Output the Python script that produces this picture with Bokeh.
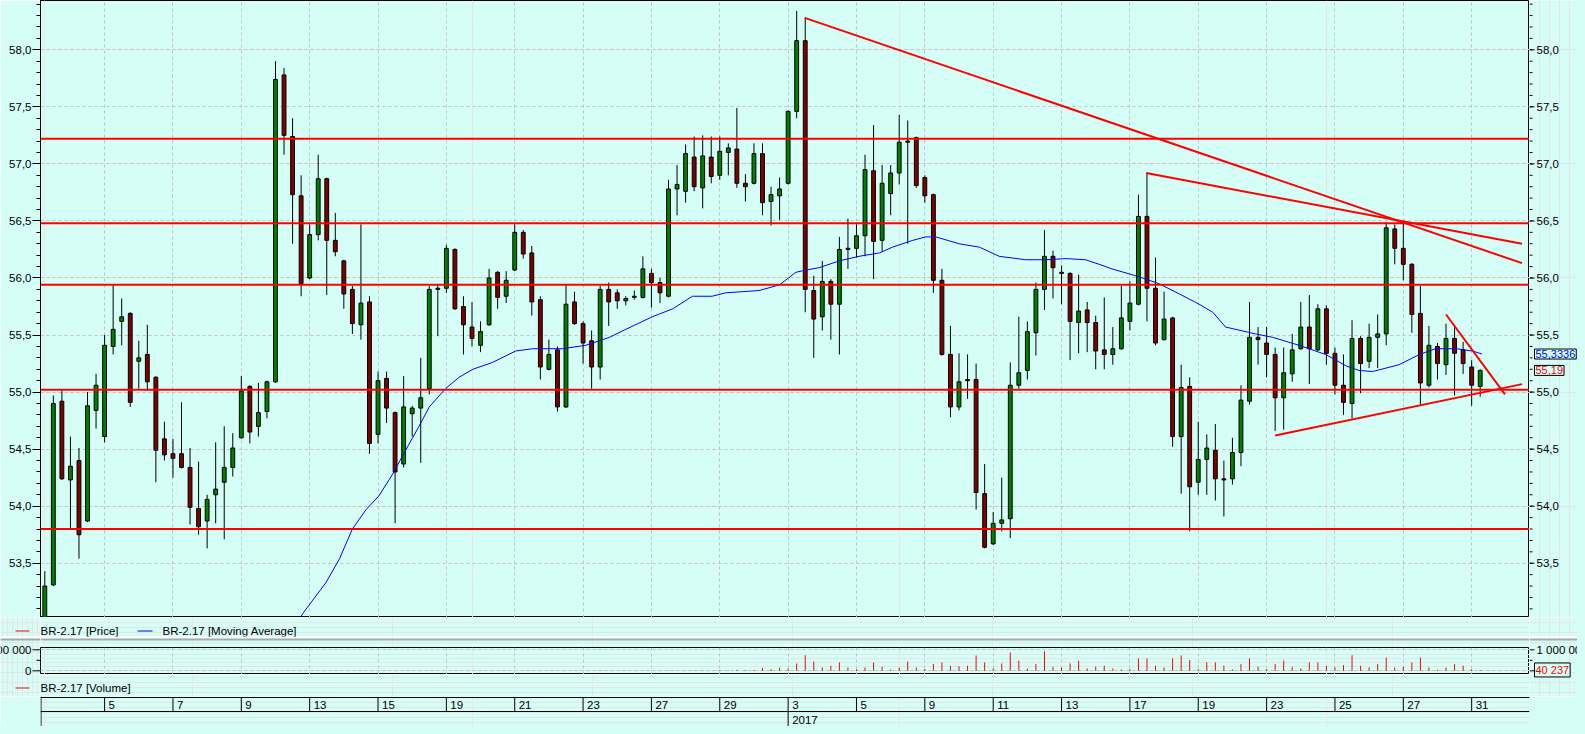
from bokeh.plotting import figure
from bokeh.models import (Range1d, LinearAxis, FixedTicker, Grid, Span, Label,
                          CustomJSTickFormatter, ColumnDataSource)
from bokeh.layouts import column, row
from bokeh.embed import file_html
from bokeh.resources import INLINE
from bokeh.core.properties import value

# ---------------- data ----------------
opens = [52.95, 53.31, 54.92, 54.23, 54.40, 53.87, 54.84, 54.61, 55.40, 55.62,
         55.69, 55.27, 55.33, 55.13, 54.59, 54.46, 54.46, 54.34, 53.98, 53.87,
         54.10, 54.21, 54.34, 54.60, 55.05, 54.70, 54.83, 55.09, 57.78, 57.24,
         56.72, 56.00, 56.38, 56.87, 56.33, 56.15, 55.90, 55.59, 55.79, 54.63,
         55.12, 54.82, 54.37, 54.81, 54.86, 55.03, 55.90, 55.91, 56.25, 55.75,
         55.57, 55.41, 55.59, 56.05, 55.84, 56.07, 56.40, 56.22, 55.81, 55.20,
         55.37, 54.87, 55.79, 55.60, 55.45, 55.22, 55.90, 55.87, 55.80, 55.83,
         55.83, 56.04, 55.96, 55.84, 56.78, 56.76, 57.06, 56.79, 57.06, 56.90,
         57.10, 57.13, 56.83, 56.83, 57.09, 56.67, 56.72, 56.83, 57.46, 58.08,
         55.89, 55.66, 55.97, 55.77, 56.25, 56.26, 56.37, 56.94, 56.33, 56.74,
         56.92, 57.19, 57.23, 56.88, 56.73, 55.98, 55.33, 54.87, 55.11, 55.11,
         54.11, 53.67, 53.85, 53.89, 55.06, 55.19, 55.52, 55.90, 56.19, 56.05,
         56.04, 55.61, 55.72, 55.61, 55.37, 55.33, 55.38, 55.62, 55.77, 56.54,
         55.91, 55.46, 55.65, 54.61, 55.05, 54.21, 54.41, 54.49, 54.24, 54.24,
         54.47, 54.92, 55.48, 55.43, 55.33, 54.95, 55.16, 55.38, 55.57, 55.37,
         55.73, 55.34, 55.06, 54.90, 55.47, 55.27, 55.48, 55.51, 56.43, 56.26,
         56.12, 55.69, 55.06, 55.40, 55.24, 55.47, 55.37, 55.22, 55.05]
highs = [53.43, 54.97, 55.02, 54.61, 54.51, 55.00, 55.16, 55.50, 55.94, 55.82,
         55.70, 55.45, 55.59, 55.14, 54.74, 54.59, 54.91, 54.51, 54.39, 54.10,
         54.56, 54.70, 54.64, 55.14, 55.06, 55.08, 55.10, 57.90, 57.84, 57.40,
         56.90, 56.47, 57.08, 56.88, 56.57, 56.16, 55.93, 56.47, 55.84, 55.18,
         55.18, 54.83, 55.14, 54.88, 55.30, 55.93, 55.94, 56.29, 56.26, 55.84,
         55.79, 55.62, 56.08, 56.06, 56.06, 56.47, 56.42, 56.28, 55.84, 55.46,
         55.40, 55.94, 55.88, 55.62, 55.54, 55.93, 55.96, 55.90, 55.84, 55.89,
         56.19, 56.08, 56.00, 56.86, 56.99, 57.17, 57.24, 57.25, 57.24, 57.24,
         57.18, 57.49, 56.91, 57.18, 57.18, 56.80, 56.88, 57.47, 58.34, 58.28,
         56.02, 56.15, 55.99, 56.36, 56.52, 56.47, 57.08, 57.34, 56.99, 56.99,
         57.43, 57.38, 57.24, 56.90, 56.74, 56.08, 55.58, 55.34, 55.33, 55.25,
         54.37, 53.95, 54.25, 55.26, 55.66, 55.62, 55.96, 56.42, 56.24, 56.11,
         56.05, 56.03, 55.79, 55.67, 55.83, 55.57, 55.93, 55.97, 56.73, 56.92,
         56.18, 55.88, 55.66, 55.24, 55.13, 54.74, 54.63, 54.72, 54.40, 54.60,
         55.06, 55.79, 55.57, 55.57, 55.39, 55.39, 55.51, 55.79, 55.85, 55.77,
         55.76, 55.39, 55.33, 55.63, 55.49, 55.60, 55.68, 56.49, 56.47, 56.49,
         56.13, 55.93, 55.58, 55.43, 55.60, 55.57, 55.44, 55.28, 55.20]
lows = [52.90, 53.30, 54.23, 53.81, 53.54, 53.86, 54.68, 54.56, 55.33, 55.41,
        54.87, 55.03, 55.01, 54.21, 54.40, 54.25, 54.33, 53.84, 53.75, 53.63,
        53.85, 53.71, 54.26, 54.59, 54.55, 54.61, 54.77, 55.08, 57.08, 56.30,
        55.84, 55.99, 56.33, 55.85, 56.19, 55.73, 55.51, 55.46, 54.46, 54.55,
        54.73, 53.85, 54.34, 54.61, 54.38, 54.98, 55.49, 55.87, 55.72, 55.33,
        55.40, 55.35, 55.58, 55.73, 55.78, 56.06, 56.17, 55.67, 55.11, 55.19,
        54.83, 54.86, 55.59, 55.25, 55.03, 55.11, 55.58, 55.73, 55.76, 55.81,
        55.82, 55.74, 55.78, 55.83, 56.55, 56.66, 56.76, 56.61, 56.83, 56.86,
        56.90, 56.79, 56.67, 56.82, 56.55, 56.46, 56.51, 56.82, 57.40, 55.70,
        55.30, 55.54, 55.46, 55.33, 56.08, 56.18, 56.19, 55.99, 56.23, 56.55,
        56.82, 56.30, 56.79, 56.66, 55.87, 55.32, 54.78, 54.84, 54.94, 53.97,
        53.63, 53.66, 53.78, 53.72, 55.03, 55.11, 55.32, 55.72, 55.82, 55.77,
        55.28, 55.34, 55.35, 55.20, 55.20, 55.24, 55.37, 55.54, 55.76, 55.62,
        55.41, 55.45, 54.52, 54.11, 53.78, 54.10, 54.10, 54.05, 53.91, 54.19,
        54.35, 54.89, 55.24, 55.13, 54.66, 54.67, 55.09, 55.37, 55.07, 55.36,
        55.24, 54.98, 54.80, 54.77, 54.99, 55.21, 55.21, 55.41, 56.12, 55.98,
        55.52, 54.89, 55.04, 55.11, 55.15, 54.97, 55.16, 54.88, 54.96]
closes = [53.30, 54.90, 54.24, 54.35, 53.75, 54.88, 55.06, 55.41, 55.55, 55.66,
          54.91, 55.30, 55.09, 54.49, 54.45, 54.42, 54.34, 53.99, 53.82, 54.06,
          54.15, 54.34, 54.51, 55.01, 54.65, 54.82, 55.09, 57.74, 57.25, 56.73,
          55.95, 56.38, 56.87, 56.33, 56.23, 55.86, 55.60, 55.78, 54.55, 55.10,
          54.86, 54.30, 54.87, 54.86, 54.95, 55.90, 55.91, 56.26, 55.73, 55.59,
          55.47, 55.53, 56.00, 55.83, 55.98, 56.40, 56.21, 55.79, 55.22, 55.33,
          54.87, 55.77, 55.60, 55.43, 55.22, 55.90, 55.79, 55.80, 55.82, 55.84,
          56.08, 55.96, 55.87, 56.78, 56.82, 57.09, 56.80, 57.07, 56.89, 57.11,
          57.14, 56.83, 56.80, 57.09, 56.66, 56.73, 56.78, 57.46, 58.08, 55.90,
          55.64, 55.97, 55.77, 56.25, 56.26, 56.37, 56.95, 56.32, 56.83, 56.92,
          57.19, 57.20, 56.81, 56.72, 55.98, 55.33, 54.87, 55.09, 55.10, 54.12,
          53.64, 53.85, 53.88, 55.06, 55.17, 55.53, 55.90, 56.19, 56.09, 56.04,
          55.62, 55.71, 55.61, 55.36, 55.33, 55.38, 55.65, 55.78, 56.54, 55.91,
          55.43, 55.64, 54.61, 55.04, 54.17, 54.41, 54.51, 54.24, 54.23, 54.47,
          54.93, 55.48, 55.46, 55.33, 54.95, 55.17, 55.37, 55.57, 55.38, 55.73,
          55.34, 55.06, 54.91, 55.47, 55.25, 55.48, 55.51, 56.44, 56.26, 56.12,
          55.68, 55.08, 55.41, 55.25, 55.47, 55.34, 55.25, 55.06, 55.19]

volume = ([0] * 65 + [10000] + [0] * 7 + [10000, 0, 0, 15000, 12000, 0, 30000,
          20000, 50000, 30000, 40000, 140000, 80000, 150000] +
          [110000, 350000, 740000, 440000, 160000, 240000, 400000, 160000, 80000, 160000,
           400000, 200000, 60000, 160000, 440000, 160000, 80000, 320000, 400000, 240000,
           220000, 240000, 730000, 400000, 110000, 350000, 870000, 480000, 110000, 320000,
           930000, 190000, 160000, 350000, 480000, 110000, 200000, 240000, 110000, 60000,
           80000, 590000, 590000, 240000, 160000, 590000, 730000, 510000, 80000, 410000,
           400000, 240000, 60000, 320000, 590000, 200000, 80000, 320000, 490000, 190000,
           110000, 400000, 400000,
           240000, 160000, 270000, 740000, 240000, 160000, 320000, 630000, 160000, 190000,
           400000, 630000, 160000, 50000, 160000, 320000, 240000, 80000, 40237])

# moving average (candle index, value)
ma_x = [29.5, 30.3, 31.3, 32.9, 34.5, 36.0, 37.6, 39.1, 40.7, 42.3, 43.8, 45.0, 46.9,
        48.5, 50.1, 52.4, 55.1, 57.1, 60.6, 63.3, 66.1, 68.0, 71.1, 73.5, 75.8, 78.1,
        79.7, 83.6, 86.0, 87.9, 89.1, 90.6, 93.0, 95.3, 97.7, 99.2, 101.6, 103.1, 104.3,
        107.0, 109.4, 111.7, 114.8, 117.2, 119.5, 121.8, 123.4, 124.9, 128.1, 130.4,
        132.8, 135.1, 136.7, 138.2, 141.7, 143.7, 146.8, 149.9, 152.3, 153.8, 155.4,
        158.5, 160.9, 162.8, 165.2, 167.1, 168.2]
ma_y = [52.98, 53.07, 53.17, 53.33, 53.54, 53.80, 53.97, 54.09, 54.28, 54.50, 54.70,
        54.87, 55.03, 55.13, 55.20, 55.26, 55.36, 55.38, 55.38, 55.41, 55.48, 55.55,
        55.66, 55.73, 55.84, 55.84, 55.87, 55.89, 55.94, 56.05, 56.07, 56.09, 56.15,
        56.19, 56.22, 56.27, 56.33, 56.36, 56.36, 56.30, 56.27, 56.19, 56.16, 56.16,
        56.17, 56.16, 56.12, 56.08, 56.01, 55.95, 55.86, 55.77, 55.70, 55.57, 55.51,
        55.48, 55.41, 55.33, 55.23, 55.19, 55.18, 55.24, 55.33, 55.38, 55.38, 55.36,
        55.3336]

levels = [57.22, 56.48, 55.94, 55.02, 53.80]
trend_x0 = [88.95, 128.9, 164.0, 144.0]
trend_y0 = [58.28, 56.92, 55.68, 54.62]
trend_x1 = [172.9, 172.9, 170.9, 172.9]
trend_y1 = [56.13, 56.30, 54.98, 55.07]

day_idx = [7, 15, 23, 31, 39, 47, 55, 63, 71, 79, 87, 95, 103, 111, 119, 127, 135,
           143, 151, 159, 167]
day_labels = ["5", "7", "9", "13", "15", "19", "21", "23", "27", "29", "3", "5", "9",
              "11", "13", "17", "19", "23", "25", "27", "31"]
year_idx = [87]
year_labels = ["2017"]

price_ticks = [53.5, 54.0, 54.5, 55.0, 55.5, 56.0, 56.5, 57.0, 57.5, 58.0]
price_minor = [round(53.1 + 0.1 * k, 1) for k in range(54)]
vol_ticks = [0, 1000000]
vol_minor = [500000]

legend_price = ["BR-2.17 [Price]", "BR-2.17 [Moving Average]"]
legend_volume = ["BR-2.17 [Volume]"]

# ---------------- style / geometry ----------------
BG = "#D5FFF6"
GRID = "#C4C0C0"
FONT = "Liberation Sans"
FS = "11.5px"
TAG_FS = "11px"
GREEN = "#008000"
DRED = "#800000"
RED = "#FF0000"
BLUE = "#0000FF"
W = 1577
LEFT, RIGHT = 40, 48
CORE = W - LEFT - RIGHT
X0, X1 = -0.503, 173.77

xr = Range1d(X0, X1)
n = len(opens)
idx = list(range(n))


def fig(w, h, x_range, y_range, left=0, right=0):
    return figure(width=w, height=h, x_range=x_range, y_range=y_range,
                  output_backend="svg", toolbar_location=None, title=None,
                  x_axis_location=None, y_axis_location=None,
                  min_border_left=left, min_border_right=right,
                  min_border_top=0, min_border_bottom=0,
                  background_fill_color=BG, border_fill_color=BG,
                  outline_line_color=None)


def put_text(f, xs, ys, texts, align="left", size=FS, color="black", **kw):
    f.text(x=xs, y=ys, text=texts, text_font=value(FONT), text_font_size=size,
           text_baseline="middle", text_align=align, text_color=color, **kw)


def tag(f, x, y, text, color, **kw):
    f.add_layout(Label(x=x, y=y, text=text, text_color=color, text_font=FONT,
                       text_font_size=TAG_FS, text_align="left", text_baseline="middle",
                       border_line_color="black", background_fill_color=BG, padding=1,
                       **kw))


def pfmt(v):
    return f"{v:.1f}".replace(".", ",")


def vfmt(v):
    return f"{int(v):,}".replace(",", " ")


# ---------------- main price panel ----------------
MAIN_H = 617
Y_TOP = 58.432
YS = 114.1
yr = Range1d(Y_TOP - MAIN_H / YS, Y_TOP)
p = fig(LEFT + CORE, MAIN_H, xr, yr, left=LEFT)
p.outline_line_color = "black"

lax = LinearAxis()
p.add_layout(lax, "left")
lax.ticker = FixedTicker(ticks=price_ticks, minor_ticks=price_minor)
lax.formatter = CustomJSTickFormatter(code="return tick.toFixed(1).replace('.', ',');")
lax.major_tick_out = 8
lax.major_tick_in = 0
lax.minor_tick_out = 4
lax.minor_tick_in = 0
lax.major_label_standoff = 1
lax.major_label_text_font = FONT
lax.major_label_text_font_size = FS
lax.major_label_text_color = "black"
lax.axis_line_color = "black"

p.add_layout(Grid(dimension=1, ticker=FixedTicker(ticks=price_ticks),
                  grid_line_color=GRID, grid_line_dash="3 3"))
p.add_layout(Grid(dimension=0, ticker=FixedTicker(ticks=day_idx),
                  grid_line_color=GRID, grid_line_dash="3 3"))

src = ColumnDataSource(dict(
    x=idx, o=opens, h=highs, l=lows, c=closes,
    top=[max(o, c) for o, c in zip(opens, closes)],
    bot=[min(o, c) for o, c in zip(opens, closes)],
    col=[GREEN if c >= o else DRED for o, c in zip(opens, closes)]))
p.segment(x0="x", y0="l", x1="x", y1="h", source=src, line_color="black", line_width=1)
p.vbar(x="x", width=0.45, top="top", bottom="bot", source=src,
       fill_color="col", line_color="black", line_width=1)
p.line(ma_x, ma_y, line_color=BLUE, line_width=1)
for lv in levels:
    p.add_layout(Span(location=lv, dimension="width", line_color=RED, line_width=2))
p.segment(x0=trend_x0, y0=trend_y0, x1=trend_x1, y1=trend_y1,
          line_color=RED, line_width=2)

# right gutter of the price panel: axis ticks, labels and last-value tags
gr = fig(RIGHT, MAIN_H, Range1d(0, RIGHT), yr)
gr.segment(x0=[0] * len(price_ticks), y0=price_ticks, x1=[5] * len(price_ticks),
           y1=price_ticks, line_color="black", line_width=1)
gr.segment(x0=[0] * len(price_minor), y0=price_minor, x1=[3] * len(price_minor),
           y1=price_minor, line_color="black", line_width=1)
put_text(gr, [7] * len(price_ticks), price_ticks, [pfmt(t) for t in price_ticks])
tag(gr, 5, ma_y[-1], f"{ma_y[-1]:.4f}".replace(".", ","), BLUE)
tag(gr, 5, closes[-1], f"{closes[-1]:.2f}".replace(".", ","), RED)

# ---------------- middle band: legends + volume panel ----------------
MID_TOP, MID_BOT = 625, 704
MID_H = MID_BOT - MID_TOP
V_TOP, V_BOT = 655, 682
V_ZERO_PX = 678.3
V_PX_PER_UNIT = 21.0 / 1e6
LEG1_Y, LEG2_Y = 638.5, 695.5


def vol_range(top_px, bot_px):
    return Range1d((V_ZERO_PX - bot_px) / V_PX_PER_UNIT, (V_ZERO_PX - top_px) / V_PX_PER_UNIT)


def separators(f):
    f.add_layout(Span(location=645, dimension="width", line_color="white", line_width=2))
    f.add_layout(Span(location=647, dimension="width", line_color="#A8A8A8", line_width=2))


def gutter(w, x0):
    g = fig(w, MID_H, Range1d(x0, x0 + w), Range1d(MID_BOT, MID_TOP))
    g.extra_y_ranges = {"vol": vol_range(MID_TOP, MID_BOT)}
    separators(g)
    return g


# left gutter (page x 8..48)
gl = gutter(LEFT, 8)
gl.segment(x0=[23, 23], y0=[LEG1_Y, LEG2_Y], x1=[37, 37], y1=[LEG1_Y, LEG2_Y],
           line_color=RED, line_width=1)
gl.segment(x0=[40] * len(vol_ticks), y0=vol_ticks, x1=[48] * len(vol_ticks), y1=vol_ticks,
           line_color="black", line_width=1, y_range_name="vol")
gl.segment(x0=[44] * len(vol_minor), y0=vol_minor, x1=[48] * len(vol_minor), y1=vol_minor,
           line_color="black", line_width=1, y_range_name="vol")
put_text(gl, [39] * len(vol_ticks), vol_ticks, [vfmt(t) for t in vol_ticks],
         align="right", y_range_name="vol")

# right gutter (page x 1537..1585)
grv = gutter(RIGHT, 0)
grv.segment(x0=[0] * len(vol_ticks), y0=vol_ticks, x1=[5] * len(vol_ticks), y1=vol_ticks,
            line_color="black", line_width=1, y_range_name="vol")
grv.segment(x0=[0] * len(vol_minor), y0=vol_minor, x1=[3] * len(vol_minor), y1=vol_minor,
            line_color="black", line_width=1, y_range_name="vol")
put_text(grv, [7], [vol_ticks[-1]], [vfmt(vol_ticks[-1])], y_range_name="vol")
tag(grv, 5, volume[-1], vfmt(volume[-1]), RED, y_range_name="vol")

# centre: legend 1, volume panel, legend 2
lg1 = fig(CORE, V_TOP - MID_TOP, Range1d(48, 48 + CORE), Range1d(V_TOP, MID_TOP))
lg1.segment(x0=[145], y0=[LEG1_Y], x1=[160], y1=[LEG1_Y], line_color=BLUE, line_width=1)
put_text(lg1, [48, 170], [638, 638], legend_price)
separators(lg1)

pv = fig(CORE, V_BOT - V_TOP, xr, vol_range(V_TOP, V_BOT))
pv.outline_line_color = "black"
pv.add_layout(Grid(dimension=1, ticker=FixedTicker(ticks=vol_ticks),
                   grid_line_color=GRID, grid_line_dash="3 3"))
pv.add_layout(Grid(dimension=0, ticker=FixedTicker(ticks=day_idx),
                   grid_line_color=GRID, grid_line_dash="3 3"))
vx = [i for i, v in zip(idx, volume) if v > 0]
vv = [v for v in volume if v > 0]
pv.segment(x0=vx, y0=[0] * len(vx), x1=vx, y1=vv, line_color=RED, line_width=1)

lg2 = fig(CORE, MID_BOT - V_BOT, Range1d(48, 48 + CORE), Range1d(MID_BOT, V_BOT))
put_text(lg2, [48], [695], legend_volume)

mid = row(gl, column(lg1, pv, lg2, spacing=0), grv, spacing=0)

# ---------------- date strip ----------------
S_TOP, S_H = 704, 30
st = fig(W, S_H, xr, Range1d(S_TOP + S_H, S_TOP), left=LEFT, right=RIGHT)
st.add_layout(Span(location=705, dimension="width", line_color="black", line_width=1))
st.add_layout(Span(location=719, dimension="width", line_color="black", line_width=1))
st.add_layout(Span(location=X0 + 0.06, dimension="height", line_color="black", line_width=1))
st.segment(x0=day_idx, y0=[705] * len(day_idx), x1=day_idx, y1=[719] * len(day_idx),
           line_color="black", line_width=1)
st.segment(x0=year_idx, y0=[719], x1=year_idx, y1=[734], line_color="black", line_width=1)
put_text(st, day_idx, [712] * len(day_idx), day_labels, x_offset=4)
put_text(st, year_idx, [727], year_labels, x_offset=4)

layout = column(row(p, gr, spacing=0), mid, st, spacing=0)
layout.styles = {"box-shadow": f"0 0 0 8px {BG}"}
open("out.html", "w").write(file_html(layout, INLINE))
